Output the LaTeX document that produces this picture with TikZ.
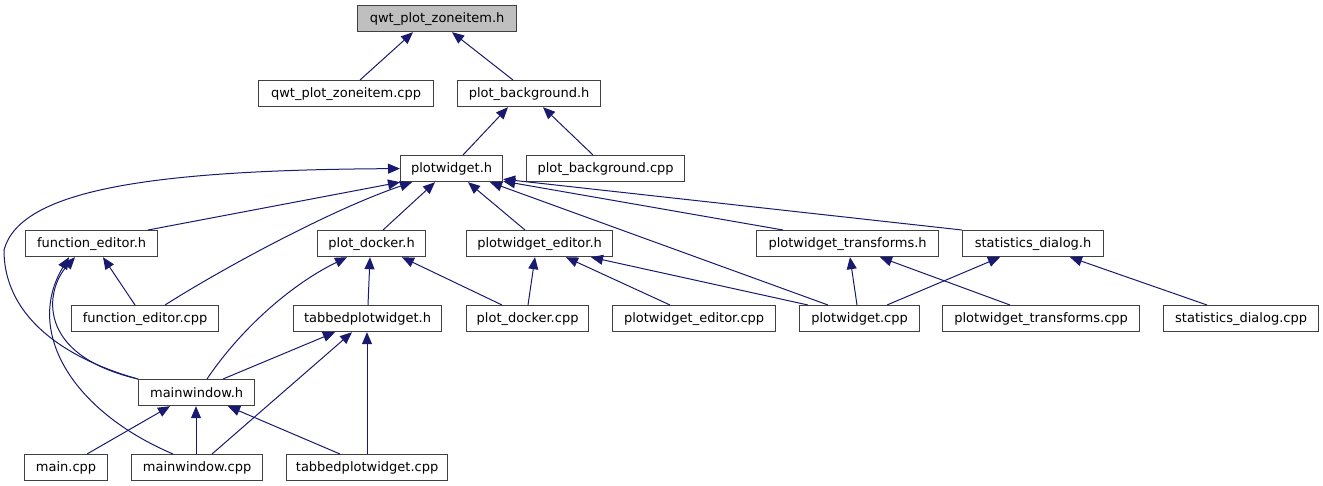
\documentclass[tikz,border=0pt]{standalone}
\usepackage{fontspec}
\setmainfont{DejaVu Sans}
\usetikzlibrary{arrows.meta}
\definecolor{edgeblue}{RGB}{25,25,112}
\definecolor{boxline}{RGB}{64,64,64}
\definecolor{rootfill}{RGB}{191,191,191}
\begin{document}
\begin{tikzpicture}[x=1pt,y=-1pt,
  box/.style={draw=boxline, line width=1.2pt, fill=white, minimum height=26pt, inner sep=2pt, anchor=north west, font=\fontsize{13}{15}\selectfont},
  dep/.style={draw=edgeblue, line width=1pt, -{Triangle[length=12pt,width=10pt]}}]
\useasboundingbox (0,0) rectangle (1323,485);
% row 0
\node[box, fill=rootfill, minimum width=159pt] (zih) at (357,5) {qwt\_plot\_zoneitem.h};
% row 1
\node[box, minimum width=175pt] (zicpp) at (258,80) {qwt\_plot\_zoneitem.cpp};
\node[box, minimum width=143pt] (pbh) at (457,80) {plot\_background.h};
% row 2
\node[box, minimum width=102pt] (pwh) at (400,155) {plotwidget.h};
\node[box, minimum width=158pt] (pbcpp) at (526,155) {plot\_background.cpp};
% row 3
\node[box, minimum width=132pt] (feh) at (25,230) {function\_editor.h};
\node[box, minimum width=108pt] (pdh) at (317,230) {plot\_docker.h};
\node[box, minimum width=146pt] (pweh) at (466,230) {plotwidget\_editor.h};
\node[box, minimum width=182pt] (pwth) at (756,230) {plotwidget\_transforms.h};
\node[box, minimum width=141pt] (sdh) at (962,230) {statistics\_dialog.h};
% row 4
\node[box, minimum width=147pt] (fecpp) at (71,305) {function\_editor.cpp};
\node[box, minimum width=148pt] (tpwh) at (293,305) {tabbedplotwidget.h};
\node[box, minimum width=122pt] (pdcpp) at (466,305) {plot\_docker.cpp};
\node[box, minimum width=163pt] (pwecpp) at (612,305) {plotwidget\_editor.cpp};
\node[box, minimum width=120pt] (pwcpp) at (799,305) {plotwidget.cpp};
\node[box, minimum width=197pt] (pwtcpp) at (942,305) {plotwidget\_transforms.cpp};
\node[box, minimum width=155pt] (sdcpp) at (1163,305) {statistics\_dialog.cpp};
% row 5
\node[box, minimum width=116pt] (mwh) at (138,379) {mainwindow.h};
% row 6
\node[box, minimum width=83pt] (maincpp) at (24,454) {main.cpp};
\node[box, minimum width=131pt] (mwcpp) at (131,454) {mainwindow.cpp};
\node[box, minimum width=161pt] (tpwcpp) at (286,454) {tabbedplotwidget.cpp};
% edges
\draw[dep] ([xshift=102pt]zicpp.north west) -- ([xshift=56pt]zih.south west);
\draw[dep] ([xshift=56pt]pbh.north west) -- ([xshift=95pt]zih.south west);
\draw[dep] ([xshift=63pt]pwh.north west) -- ([xshift=51pt]pbh.south west);
\draw[dep] ([xshift=67pt]pbcpp.north west) -- ([xshift=86pt]pbh.south west);
\draw[dep] ([xshift=123pt]feh.north west) -- (pwh.south west);
\draw[dep] ([xshift=94pt]fecpp.north west) .. controls (220,270) and (330,210) .. ([xshift=12pt]pwh.south west);
\draw[dep] ([xshift=66pt]pdh.north west) -- ([xshift=35pt]pwh.south west);
\draw[dep] ([xshift=59pt]pweh.north west) -- ([xshift=68pt]pwh.south west);
\draw[dep] ([xshift=29pt]pwcpp.north west) -- ([xshift=90pt]pwh.south west);
\draw[dep] ([xshift=27pt]pwth.north west) -- ([yshift=1pt]pwh.south east);
\draw[dep] (sdh.north west) -- ([yshift=3pt]pwh.south east);
\draw[dep] (mwh.north west) .. controls (70,360) and (4,320) .. (4,250) .. controls (20,190) and (150,170) .. (pwh.west);
\draw[dep] (mwh.north west) .. controls (35,355) and (45,290) .. ([xshift=50pt]feh.south west);
\draw[dep] ([xshift=42pt]mwcpp.north west) .. controls (70,410) and (25,330) .. ([xshift=44pt]feh.south west);
\draw[dep] ([xshift=64pt]fecpp.north west) -- ([xshift=78pt]feh.south west);
\draw[dep] ([xshift=69pt]mwh.north west) .. controls (240,330) and (290,285) .. ([xshift=30pt]pdh.south west);
\draw[dep] ([xshift=75pt]tpwh.north west) -- ([xshift=53pt]pdh.south west);
\draw[dep] ([xshift=36pt]pdcpp.north west) -- ([xshift=85pt]pdh.south west);
\draw[dep] ([xshift=62pt]pdcpp.north west) -- ([xshift=69pt]pweh.south west);
\draw[dep] ([xshift=58pt]pwecpp.north west) -- ([xshift=100pt]pweh.south west);
\draw[dep] ([xshift=9pt]pwcpp.north west) -- ([xshift=125pt]pweh.south west);
\draw[dep] ([xshift=58pt]pwcpp.north west) -- ([xshift=94pt]pwth.south west);
\draw[dep] ([xshift=68pt]pwtcpp.north west) -- ([xshift=124pt]pwth.south west);
\draw[dep] ([xshift=88pt]pwcpp.north west) -- ([xshift=38pt]sdh.south west);
\draw[dep] ([xshift=44pt]sdcpp.north west) -- ([xshift=108pt]sdh.south west);
\draw[dep] ([xshift=85pt]mwh.north west) -- ([xshift=42pt]tpwh.south west);
\draw[dep] ([xshift=81pt]mwcpp.north west) -- ([xshift=59pt]tpwh.south west);
\draw[dep] ([xshift=81pt]tpwcpp.north west) -- ([xshift=74pt]tpwh.south west);
\draw[dep] ([xshift=63pt]maincpp.north west) -- ([xshift=32pt]mwh.south west);
\draw[dep] ([xshift=65pt]mwcpp.north west) -- ([xshift=58pt]mwh.south west);
\draw[dep] ([xshift=54pt]tpwcpp.north west) -- ([xshift=90pt]mwh.south west);
\end{tikzpicture}
\end{document}
